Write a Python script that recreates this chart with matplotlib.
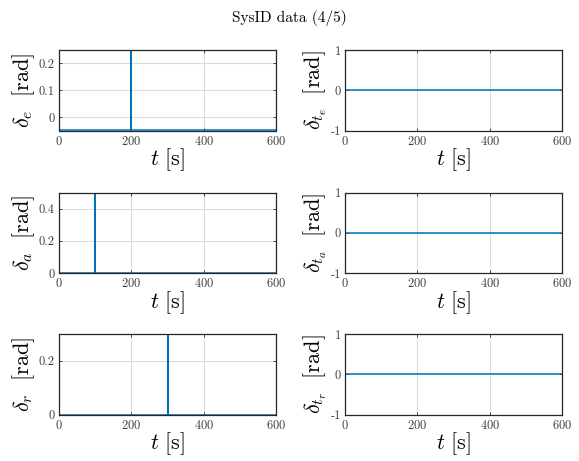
import numpy as np
import matplotlib
matplotlib.use("Agg")
import matplotlib.pyplot as plt

plt.rcParams["font.family"] = "serif"
plt.rcParams["font.serif"] = ["cmr10"]
plt.rcParams["mathtext.fontset"] = "cm"
plt.rcParams["axes.unicode_minus"] = False
plt.rcParams["axes.formatter.use_mathtext"] = True

# pulse inputs (time in s, deflection in rad)
t_elev = [0, 200, 200, 200, 600]
d_elev = [-0.05, -0.05, 0.25, -0.05, -0.05]
t_ail = [0, 100, 100, 100, 600]
d_ail = [0, 0, 0.5, 0, 0]
t_rud = [0, 300, 300, 300, 600]
d_rud = [0, 0, 0.3, 0, 0]
t_tab = [0, 600]
d_tab_e = [0, 0]
d_tab_a = [0, 0]
d_tab_r = [0, 0]

left_labels = [r"$\delta_e\ \ [\mathrm{rad}]$", r"$\delta_a\ \ [\mathrm{rad}]$", r"$\delta_r\ \ [\mathrm{rad}]$"]
right_labels = [r"$\delta_{t_e}\ \ [\mathrm{rad}]$", r"$\delta_{t_a}\ \ [\mathrm{rad}]$", r"$\delta_{t_r}\ \ [\mathrm{rad}]$"]
left_ylims = [(-0.05, 0.25), (0, 0.5), (0, 0.3)]
left_yticks = [[0, 0.1, 0.2], [0, 0.2, 0.4], [0, 0.2]]
left_ticklabels = [["0", "0.1", "0.2"], ["0", "0.2", "0.4"], ["0", "0.2"]]

left_data = [(t_elev, d_elev), (t_ail, d_ail), (t_rud, d_rud)]
right_data = [(t_tab, d_tab_e), (t_tab, d_tab_a), (t_tab, d_tab_r)]

W, H = 579, 461
fig = plt.figure(figsize=(W / 100, H / 100), dpi=100)
fig.text(0.5, 1 - 18 / H, "SysID data (4/5)", ha="center", va="center", fontsize=11)

row_tops = [50, 192.5, 334]
ax_h = 80.5
col_lefts = [59, 345]
ax_w = 217

blue = "#0072BD"
edge = "#262626"


def style(ax):
    ax.grid(True, color="#dcdcdc", linewidth=0.8)
    ax.set_axisbelow(True)
    for s in ax.spines.values():
        s.set_color(edge)
        s.set_linewidth(0.9)
    ax.tick_params(direction="in", length=2.5, width=0.6, color=edge, labelsize=9,
                   labelcolor="#404040", top=True, right=True, pad=3)
    ax.set_xlim(0, 600)
    ax.set_xticks([0, 200, 400, 600])
    ax.set_xlabel(r"$t\ [\mathrm{s}]$", fontsize=16, labelpad=-1)


for i in range(3):
    bottom = 1 - (row_tops[i] + ax_h) / H
    # left column: control surfaces
    ax = fig.add_axes([col_lefts[0] / W, bottom, ax_w / W, ax_h / H])
    ax.plot(left_data[i][0], left_data[i][1], color=blue, linewidth=1.1)
    style(ax)
    ax.set_ylim(*left_ylims[i])
    ax.set_yticks(left_yticks[i])
    ax.set_yticklabels(left_ticklabels[i])
    ax.set_ylabel(left_labels[i], fontsize=16, labelpad=1)

    # right column: trim tabs
    ax = fig.add_axes([col_lefts[1] / W, bottom, ax_w / W, ax_h / H])
    ax.plot(right_data[i][0], right_data[i][1], color=blue, linewidth=1.1)
    style(ax)
    ax.set_ylim(-1, 1)
    ax.set_yticks([-1, 0, 1])
    ax.set_yticklabels(["-1", "0", "1"])
    ax.set_ylabel(right_labels[i], fontsize=16, labelpad=1)

fig.savefig("out.png", dpi=100)
